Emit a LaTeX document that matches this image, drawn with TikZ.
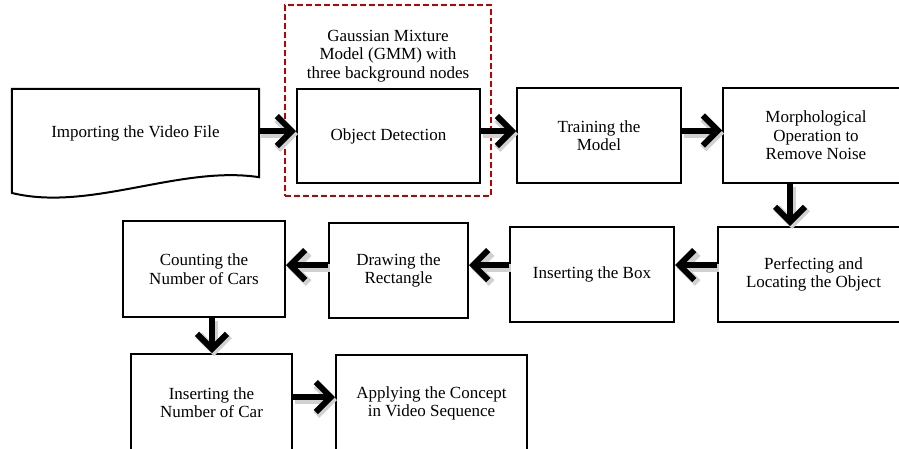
\documentclass[tikz,border=0pt]{standalone}
\usepackage{fontspec}
\setmainfont{Liberation Serif}
\usetikzlibrary{arrows.meta}
\definecolor{dred}{RGB}{192,0,0}
\tikzset{
  txt/.style={font=\fontsize{17}{18.5}\selectfont, align=center, inner sep=0pt},
  box/.style={txt, draw, line width=2pt, fill=white},
  arr/.style={line width=6pt, -{Straight Barb[length=15pt, width=30pt]},
    preaction={draw=black!18, line width=8pt, transform canvas={xshift=2pt,yshift=-3pt}}},
  gmmbox/.style={draw=dred, line width=2pt, dash pattern=on 6pt off 3pt}
}
\begin{document}
\begin{tikzpicture}[x=1pt,y=-1pt]
\useasboundingbox (0,0) rectangle (899,448);
\clip (0,0) rectangle (899,448);
\fill[white] (0,0) rectangle (899,448);

% document shape
\node[minimum width=247pt, minimum height=88pt, inner sep=0pt] (imp) at (135.5,133) {};
\draw[line width=2pt, fill=white] (imp.north west) -- (imp.north east) -- (imp.south east)
  .. controls (180,165) and (90,212) .. (12,193) -- cycle;
\node[txt] (imptxt) at (imp.center) {Importing the Video File};

% GMM dashed region
\node[gmmbox, minimum width=206pt, minimum height=191pt] (gmm) at (388,100.5) {};
\node[txt] (gmmtxt) at (388,56) {Gaussian Mixture\\Model (GMM) with\\three background nodes};

\node[box, minimum width=183pt, minimum height=94pt] (od) at (388.5,136) {Object Detection};
\node[box, minimum width=164pt, minimum height=95pt] (train) at (599,135.5) {Training the\\Model};
\node[box, minimum width=186pt, minimum height=95pt] (morph) at (816,135.5) {Morphological\\Operation to\\Remove Noise};
\node[box, minimum width=191pt, minimum height=95pt] (perf) at (813.5,274.5) {Perfecting and\\Locating the Object};
\node[box, minimum width=164pt, minimum height=95pt] (ins) at (592,274.5) {Inserting the Box};
\node[box, minimum width=139pt, minimum height=95pt] (drw) at (398.5,270.5) {Drawing the\\Rectangle};
\node[box, minimum width=162pt, minimum height=96pt] (cnt) at (204,269) {Counting the\\Number of Cars};
\node[box, minimum width=161pt, minimum height=97pt] (insn) at (211.5,402.5) {Inserting the\\Number of Car};
\node[box, minimum width=191pt, minimum height=97pt] (app) at (431.5,403.5) {Applying the Concept\\in Video Sequence};

% connectors
\draw[arr] ([yshift=2pt]imp.east) -- ([yshift=2pt]imp.east -| od.west);
\draw[arr] ([yshift=5pt]od.east) -- ([yshift=5pt]od.east -| train.west);
\draw[arr] ([yshift=5pt]train.east) -- ([yshift=5pt]train.east -| morph.west);
\draw[arr] ([xshift=-26pt]morph.south) -- ([xshift=-26pt]morph.south |- perf.north);
\draw[arr] ([yshift=9.5pt]perf.west) -- ([yshift=9.5pt]perf.west -| ins.east);
\draw[arr] ([yshift=9.5pt]ins.west) -- ([yshift=9.5pt]ins.west -| drw.east);
\draw[arr] ([yshift=5.5pt]drw.west) -- ([yshift=5.5pt]drw.west -| cnt.east);
\draw[arr] ([xshift=8pt]cnt.south) -- ([xshift=8pt]cnt.south |- insn.north);
\draw[arr] ([yshift=5.5pt]insn.east) -- ([yshift=5.5pt]insn.east -| app.west);
\end{tikzpicture}
\end{document}
